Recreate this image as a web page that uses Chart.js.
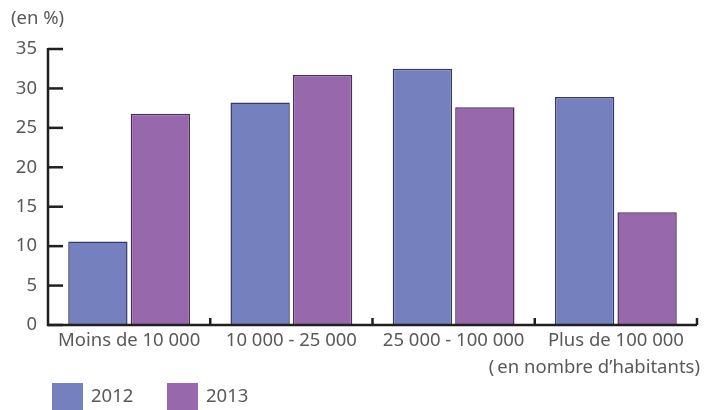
<!DOCTYPE html>
<html><head><meta charset="utf-8">
<script src="https://cdn.jsdelivr.net/npm/chart.js@4"></script>
<style>html,body{margin:0;padding:0;background:#fff}#w{width:717px;height:410px;position:relative}</style>
</head><body><div id="w"><canvas id="c"></canvas></div>
<script>
const categories = ["Moins de 10 000", "10 000 - 25 000", "25 000 - 100 000", "Plus de 100 000"];
const values2012 = [10.6, 28.2, 32.5, 28.9];
const values2013 = [26.8, 31.7, 27.6, 14.3];
const seriesLabels = ["2012", "2013"];
const yTicks = [0, 5, 10, 15, 20, 25, 30, 35];
const unitLabel = "(en %)";
const xAxisNote = "(\u2009en nombre d\u2019habitants)";

const FONT = "'Noto Sans', sans-serif";
const FS = 18.5;
const TXT = "#58595b";

const deco = {
  id: "deco",
  afterDraw(chart) {
    const ctx = chart.ctx, x = chart.scales.x, y = chart.scales.y, a = chart.chartArea;
    ctx.save();
    ctx.strokeStyle = "#231f20";
    ctx.lineWidth = 2.5;
    ctx.beginPath();
    ctx.moveTo(a.left, y.getPixelForValue(35) - 1);
    ctx.lineTo(a.left, y.getPixelForValue(0));
    ctx.lineTo(a.right, y.getPixelForValue(0));
    ctx.stroke();
    yTicks.forEach(v => {
      const py = y.getPixelForValue(v);
      ctx.beginPath(); ctx.moveTo(a.left, py); ctx.lineTo(a.left + 15, py); ctx.stroke();
    });
    const n = categories.length;
    for (let i = 1; i <= n; i++) {
      const px = i < n ? (x.getPixelForValue(i - 1) + x.getPixelForValue(i)) / 2 : a.right;
      const py = y.getPixelForValue(0);
      ctx.beginPath(); ctx.moveTo(px, py); ctx.lineTo(px, py - 7); ctx.stroke();
    }
    ctx.fillStyle = TXT;
    ctx.font = FS + "px " + FONT;
    ctx.textBaseline = "middle";
    ctx.textAlign = "left";
    ctx.fillText(unitLabel, 11, 19);
    ctx.textAlign = "right";
    ctx.fillText(xAxisNote, a.right + 3, 368);
    ctx.textAlign = "left";
    const ds = chart.data.datasets;
    const lx = [52, 167];
    ds.forEach((d, i) => {
      ctx.fillStyle = d.backgroundColor;
      ctx.fillRect(lx[i], 383, 31, 28);
      ctx.fillStyle = TXT;
      ctx.fillText(d.label, lx[i] + 39, 397);
    });
    ctx.restore();
  }
};

new Chart(document.getElementById("c"), {
  type: "bar",
  data: {
    labels: categories,
    datasets: [
      { label: seriesLabels[0], data: values2012, backgroundColor: "#7580be", borderColor: "#37386a", borderWidth: 1.5 },
      { label: seriesLabels[1], data: values2013, backgroundColor: "#9868ac", borderColor: "#4b2d5c", borderWidth: 1.5 }
    ]
  },
  options: {
    responsive: true, maintainAspectRatio: false, animation: false,
    layout: { padding: { top: 49, right: 20, left: 0, bottom: 0 } },
    categoryPercentage: 0.77, barPercentage: 0.95,
    plugins: { legend: { display: false }, tooltip: { enabled: false } },
    scales: {
      x: {
        grid: { display: false, drawTicks: false },
        border: { display: false },
        ticks: { color: TXT, font: { family: FONT, size: FS }, padding: 5, maxRotation: 0, autoSkip: false },
        afterFit(s) { s.height = 85; }
      },
      y: {
        min: 0, max: 35,
        grid: { display: false, drawTicks: false },
        border: { display: false },
        ticks: { stepSize: 5, color: TXT, font: { family: FONT, size: FS }, padding: 11 },
        afterFit(s) { s.width = 48; }
      }
    }
  },
  plugins: [deco]
});
</script></body></html>
